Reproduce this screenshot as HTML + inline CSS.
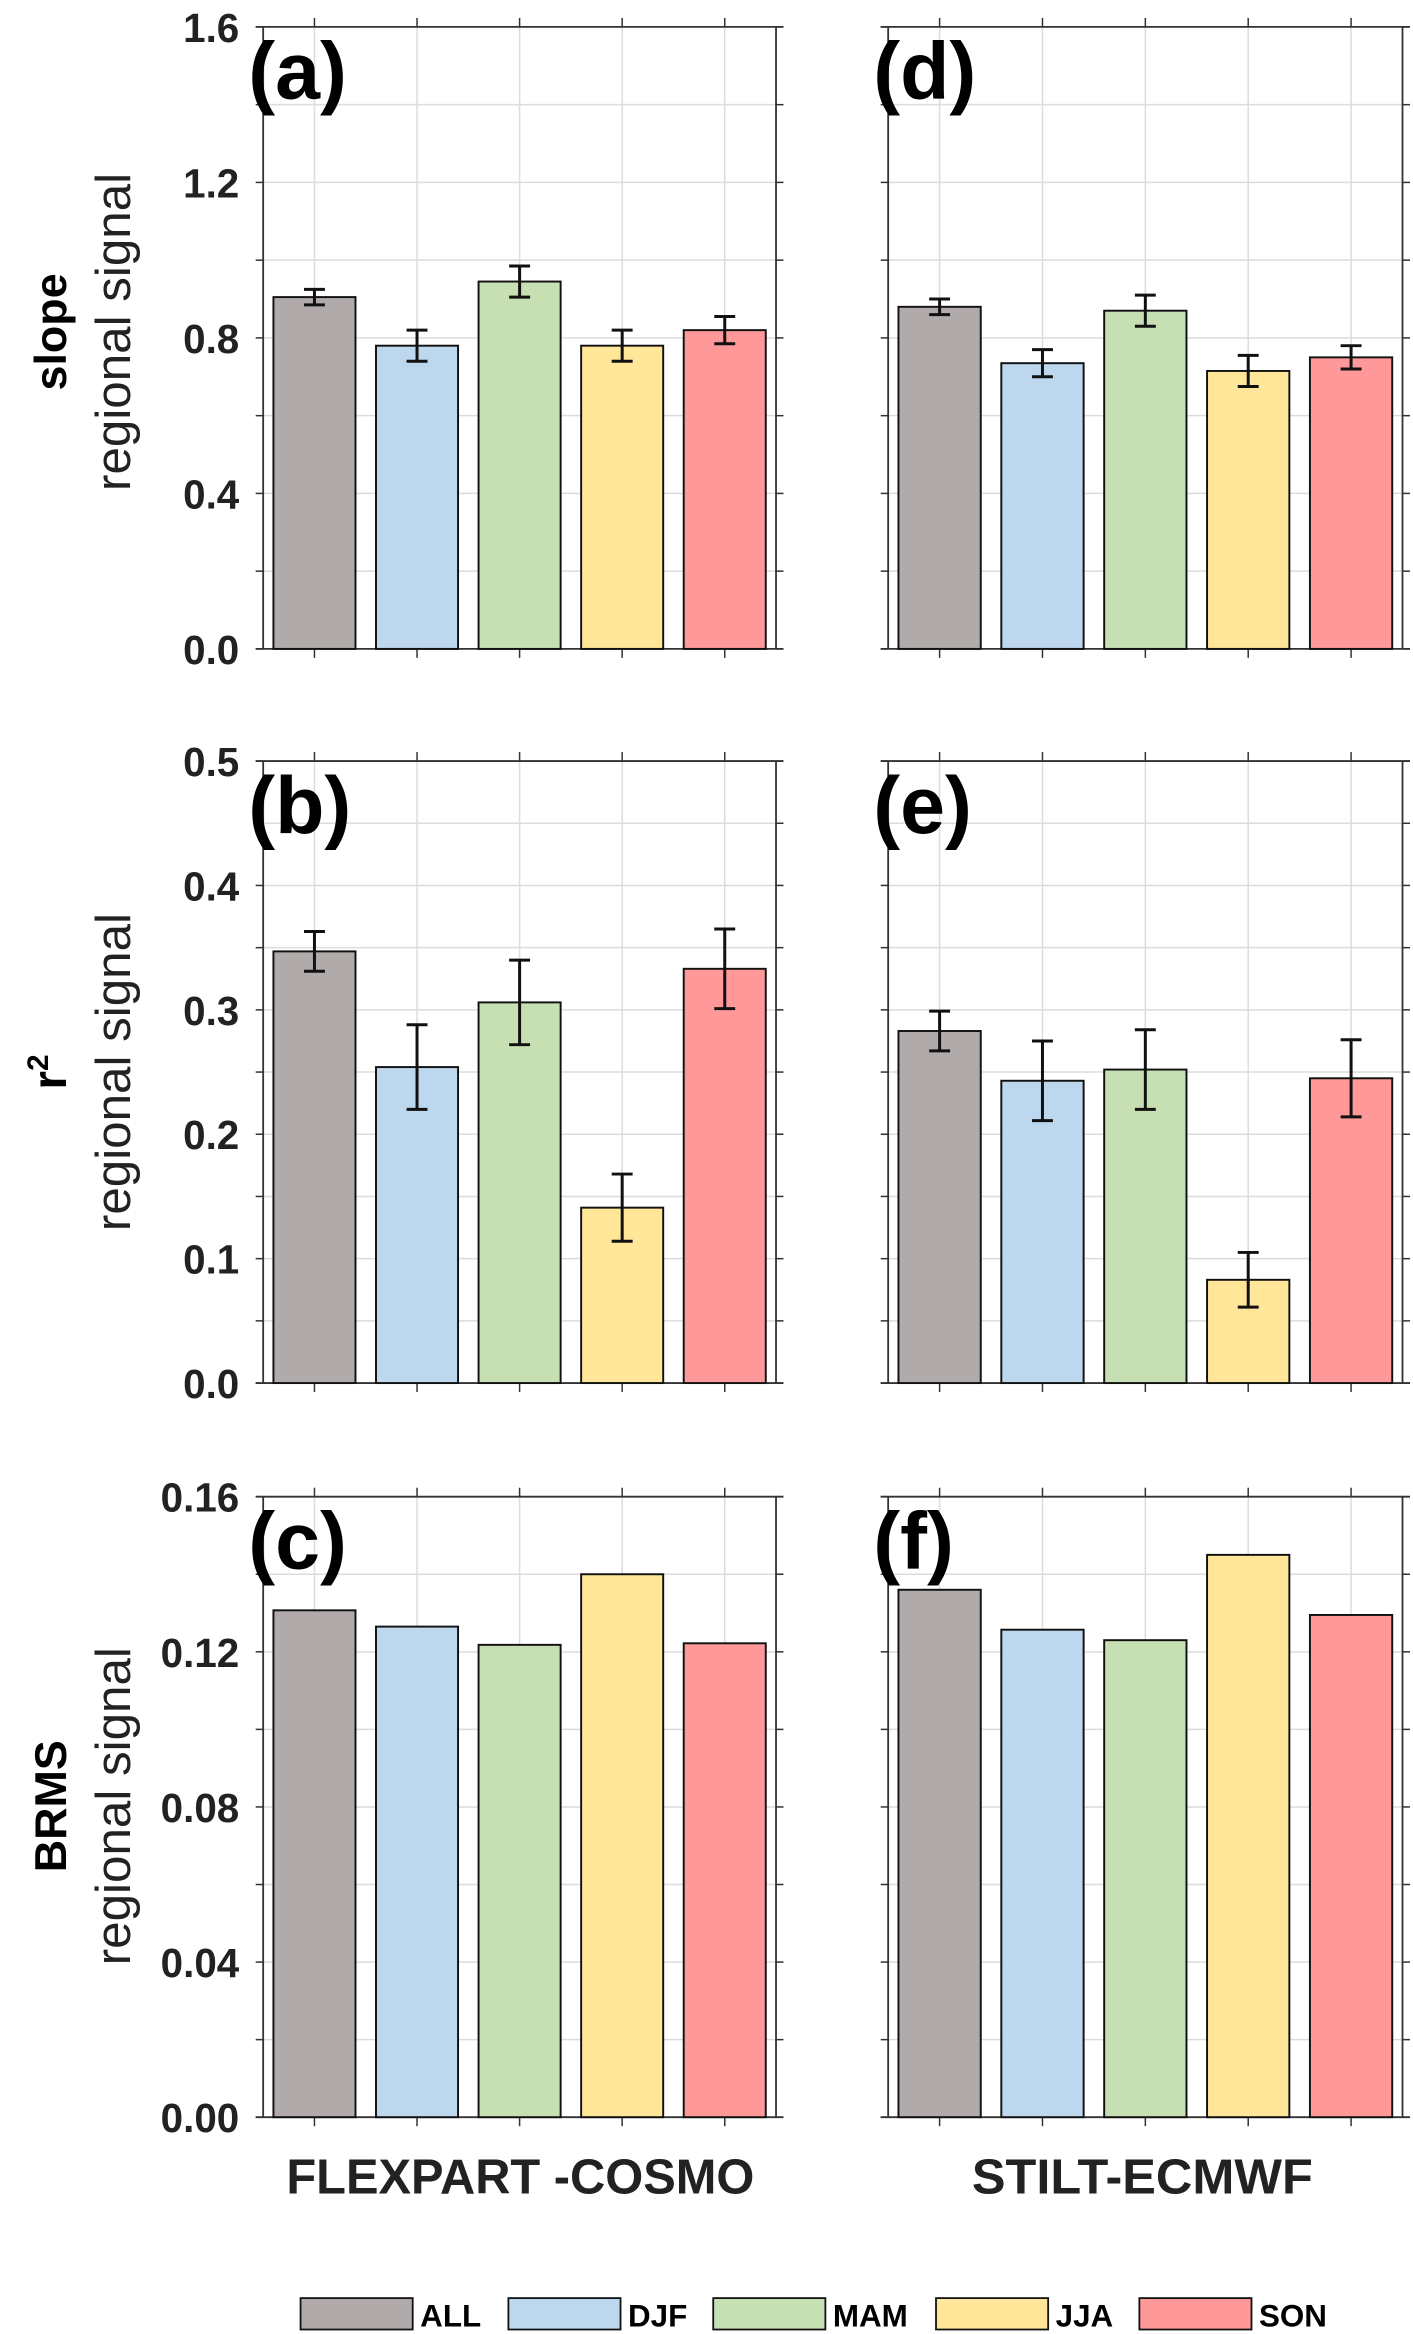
<!DOCTYPE html>
<html><head><meta charset="utf-8"><style>
html,body{margin:0;padding:0;background:#fff;}
svg{display:block;}
text{font-family:"Liberation Sans",Arial,sans-serif;fill:#222;}
.tick{font-family:"Liberation Sans Narrow","Liberation Sans",sans-serif;font-weight:bold;font-size:27px;}
</style></head><body>
<svg id="chart" width="1413" height="2334" viewBox="0 0 945 1561" xmlns="http://www.w3.org/2000/svg"></svg>
<script>
const categories = ["ALL","DJF","MAM","JJA","SON"];
const colors = ["#b0abaa","#bdd7ee","#c6e0b4","#ffe699","#ff9999"];
const slopeFlex = [0.905,0.78,0.945,0.78,0.82];
const slopeFlexErr = [0.02,0.04,0.04,0.04,0.035];
const slopeStilt = [0.88,0.735,0.87,0.715,0.75];
const slopeStiltErr = [0.02,0.035,0.04,0.04,0.03];
const r2Flex = [0.347,0.254,0.306,0.141,0.333];
const r2FlexErr = [0.016,0.034,0.034,0.027,0.032];
const r2Stilt = [0.283,0.243,0.252,0.083,0.245];
const r2StiltErr = [0.016,0.032,0.032,0.022,0.031];
const brmsFlex = [0.1307,0.1265,0.1218,0.140,0.1222];
const brmsStilt = [0.136,0.1257,0.123,0.145,0.1295];
const slopeTicks = ["0.0","0.4","0.8","1.2","1.6"];
const r2Ticks = ["0.0","0.1","0.2","0.3","0.4","0.5"];
const brmsTicks = ["0.00","0.04","0.08","0.12","0.16"];

const NS="http://www.w3.org/2000/svg";
const svg=document.getElementById('chart');
function mk(tag,attrs,parent){const e=document.createElementNS(NS,tag);for(const k in attrs)e.setAttribute(k,attrs[k]);(parent||svg).appendChild(e);return e;}

function panel(id,x0,x1,yTop,yBot,ymax,minorStep,majorLabels,vals,errs,label,showLabels){
  const g=mk('g',{});
  
  
  const ys=v=>yBot-(v/ymax)*(yBot-yTop);
  const slot=(x1-x0)/categories.length;
  const xc=i=>x0+slot*(i+0.5);
  const nMinor=Math.round(ymax/minorStep);
  for(let k=0;k<=nMinor;k++){const y=ys(k*minorStep);
    mk('line',{x1:x0,x2:x1,y1:y,y2:y,stroke:'#dcdcdc','stroke-width':1},g);
    mk('line',{x1:x0-5,x2:x0,y1:y,y2:y,stroke:'#333','stroke-width':1},g);
    mk('line',{x1:x1,x2:x1+5,y1:y,y2:y,stroke:'#333','stroke-width':1},g);}
  categories.forEach((c,i)=>{mk('line',{x1:xc(i),x2:xc(i),y1:yTop,y2:yBot,stroke:'#dcdcdc','stroke-width':1},g);
    mk('line',{x1:xc(i),x2:xc(i),y1:yBot,y2:yBot+6,stroke:'#333','stroke-width':1},g);
    mk('line',{x1:xc(i),x2:xc(i),y1:yTop-6,y2:yTop,stroke:'#333','stroke-width':1},g);});
  mk('line',{x1:x0,x2:x0,y1:yTop,y2:yBot,stroke:'#333','stroke-width':1.2},g);
  mk('line',{x1:x1,x2:x1,y1:yTop,y2:yBot,stroke:'#333','stroke-width':1.2},g);
  mk('line',{x1:x0-5,x2:x1+5,y1:yTop,y2:yTop,stroke:'#333','stroke-width':1.2},g);
  mk('line',{x1:x0-5,x2:x1+5,y1:yBot,y2:yBot,stroke:'#333','stroke-width':1.2},g);
  if(showLabels){majorLabels.forEach((t,k)=>{const v=ymax*k/(majorLabels.length-1);
    const tx=mk('text',{x:x0-16,y:ys(v)+10,'text-anchor':'end',class:'tick'},g);tx.textContent=t;
    
    });}
  const bw=slot*0.8;
  vals.forEach((v,i)=>{
    const r=mk('rect',{x:xc(i)-bw/2,y:ys(v),width:bw,height:yBot-ys(v),fill:colors[i],stroke:'#111','stroke-width':1.3},g);
    
    
    if(errs){const e=errs[i];const ya=ys(v+e),yb=ys(v-e);
      mk('line',{x1:xc(i),x2:xc(i),y1:ya,y2:yb,stroke:'#111','stroke-width':2},g);
      mk('line',{x1:xc(i)-7,x2:xc(i)+7,y1:ya,y2:ya,stroke:'#111','stroke-width':2},g);
      mk('line',{x1:xc(i)-7,x2:xc(i)+7,y1:yb,y2:yb,stroke:'#111','stroke-width':2},g);}
  });
  const pl=mk('text',{x:x0-10,y:yTop+48,'font-size':54,'font-weight':'bold',style:'font-family:"Liberation Sans Narrow","Liberation Sans",sans-serif;fill:#000'},g);
  pl.textContent=label;
  
  
}
const L0=176,L1=519,R0=594,R1=938;
panel('a',L0,L1,18,434,1.6,0.2,slopeTicks,slopeFlex,slopeFlexErr,'(a)',true);
panel('d',R0,R1,18,434,1.6,0.2,slopeTicks,slopeStilt,slopeStiltErr,'(d)',false);
panel('b',L0,L1,509,925,0.5,0.05,r2Ticks,r2Flex,r2FlexErr,'(b)',true);
panel('e',R0,R1,509,925,0.5,0.05,r2Ticks,r2Stilt,r2StiltErr,'(e)',false);
panel('c',L0,L1,1001,1416,0.16,0.02,brmsTicks,brmsFlex,null,'(c)',true);
panel('f',R0,R1,1001,1416,0.16,0.02,brmsTicks,brmsStilt,null,'(f)',false);

function ytitle(name,bold,cy){
  const a=mk('text',{x:0,y:0,'text-anchor':'middle','font-size':30,'font-weight':'bold',transform:`translate(44,${cy}) rotate(-90)`,style:'fill:#000'});
  a.textContent=bold;
  const b=mk('text',{x:0,y:0,'text-anchor':'middle','font-size':33,transform:`translate(87,${cy}) rotate(-90)`,style:'fill:#222'});
  b.textContent='regional signal';
}
ytitle('slope','slope',222);
ytitle('brms','BRMS',1208);
const r2t=mk('text',{x:0,y:0,'text-anchor':'middle','font-size':32,'font-weight':'bold',transform:'translate(44,717) rotate(-90)',style:'fill:#000'});
r2t.innerHTML='r<tspan dy="-12" font-size="20">2</tspan>';


const r2s=mk('text',{x:0,y:0,'text-anchor':'middle','font-size':33,transform:'translate(87,717) rotate(-90)',style:'fill:#222'});
r2s.textContent='regional signal';



const m1=mk('text',{x:348,y:1467,'text-anchor':'middle','font-size':33,'font-weight':'bold',textLength:313,lengthAdjust:'spacingAndGlyphs'});
m1.textContent='FLEXPART -COSMO';


const m2=mk('text',{x:764,y:1467,'text-anchor':'middle','font-size':33,'font-weight':'bold',textLength:228,lengthAdjust:'spacingAndGlyphs'});
m2.textContent='STILT-ECMWF';



const legX=[201,340,477,626,762];
categories.forEach((c,i)=>{
  const r=mk('rect',{x:legX[i],y:1537,width:75,height:21,fill:colors[i],stroke:'#111','stroke-width':1.2});
  
  
  const t=mk('text',{x:legX[i]+80,y:1556,'font-size':21,'font-weight':'bold',style:'font-family:"Liberation Sans Narrow","Liberation Sans",sans-serif;fill:#000'});
  t.textContent=c;
  
  
});
</script>
</body></html>
